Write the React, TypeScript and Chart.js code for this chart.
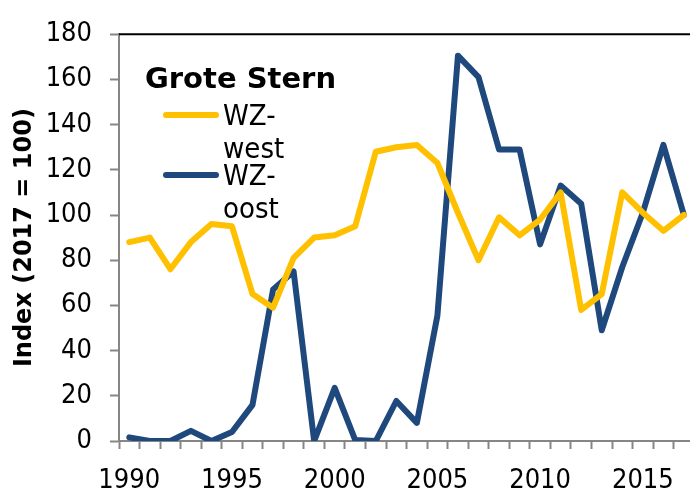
import React, { useEffect, useRef } from "react";
import { Chart, registerables } from "chart.js";

Chart.register(...registerables);

// ---- data ----
const years = [
  "1990", "1991", "1992", "1993", "1994", "1995", "1996", "1997", "1998", "1999",
  "2000", "2001", "2002", "2003", "2004", "2005", "2006", "2007", "2008", "2009",
  "2010", "2011", "2012", "2013", "2014", "2015", "2016", "2017",
];
const wzWest = [
  88, 90, 76, 88, 96, 95, 65, 59, 81, 90,
  91, 95, 128, 130, 131, 123, 101, 80, 99, 91,
  98, 110, 58, 65, 110, 101, 93, 100,
];
const wzOost = [
  1.6, 0, 0, 4.5, 0, 4, 16, 67, 75, 0,
  23.5, 0.4, 0, 17.7, 8, 55.5, 170.5, 161, 129, 129,
  87, 113, 105, 49, 77, 101, 131, 100,
];
const seriesNames = ["WZ-west", "WZ-oost"];
const seriesColors = ["#FFC000", "#1F497D"];
const legendTitle = "Grote Stern";
const yTitle = "Index (2017 = 100)";
const yMin = 0;
const yMax = 180;
const yStep = 20;
const xLabelEvery = 5;

const REG = '"DejaVu Sans Condensed", "Liberation Sans", sans-serif';
const BOLD = '"DejaVu Sans", sans-serif';

const framePlugin = {
  id: "topFrame",
  beforeDatasetsDraw(chart: any) {
    const { ctx, chartArea } = chart;
    ctx.save();
    ctx.strokeStyle = "#000";
    ctx.lineWidth = 2;
    ctx.beginPath();
    ctx.moveTo(chartArea.left, chartArea.top);
    ctx.lineTo(chartArea.right, chartArea.top);
    ctx.stroke();
    ctx.restore();
  },
};

const legendPlugin = {
  id: "insideLegend",
  afterDraw(chart: any) {
    const { ctx } = chart;
    ctx.save();
    ctx.fillStyle = "#000";
    ctx.textAlign = "left";
    ctx.textBaseline = "alphabetic";
    ctx.font = `bold 29px ${BOLD}`;
    ctx.fillText(legendTitle, 145, 88);
    chart.data.datasets.forEach((ds: any, i: number) => {
      const lineY = 115 + 60 * i;
      ctx.strokeStyle = ds.borderColor;
      ctx.lineWidth = 6;
      ctx.lineCap = "round";
      ctx.beginPath();
      ctx.moveTo(166, lineY);
      ctx.lineTo(216, lineY);
      ctx.stroke();
      ctx.font = `29px ${REG}`;
      const parts = String(ds.label).split(/(?<=-)/);
      parts.forEach((p: string, j: number) => {
        ctx.fillText(p, 223, lineY + 10 + 33 * j);
      });
    });
    ctx.restore();
  },
};

export default function App() {
  const ref = useRef<HTMLCanvasElement>(null);

  useEffect(() => {
    if (!ref.current) return;
    const chart = new Chart(ref.current, {
      type: "line",
      data: {
        labels: years,
        datasets: [wzWest, wzOost].map((d, i) => ({
          label: seriesNames[i],
          data: d,
          borderColor: seriesColors[i],
          backgroundColor: seriesColors[i],
          borderWidth: 6,
          pointRadius: 0,
          pointHoverRadius: 0,
          tension: 0,
          fill: false,
          borderJoinStyle: "round" as const,
          borderCapStyle: "round" as const,
        })),
      },
      options: {
        animation: false,
        responsive: false,
        events: [],
        layout: { padding: { left: 0, top: 24, right: 5, bottom: 0 } },
        plugins: {
          legend: { display: false },
          tooltip: { enabled: false },
        },
        scales: {
          x: {
            type: "category",
            offset: true,
            grid: {
              offset: true,
              drawOnChartArea: false,
              drawTicks: true,
              tickLength: 8,
              tickColor: "#868686",
              tickWidth: 2,
            },
            border: { color: "#868686", width: 2 },
            ticks: {
              autoSkip: false,
              maxRotation: 0,
              minRotation: 0,
              padding: 16,
              color: "#000",
              font: { family: REG, size: 27 },
              callback: (_v: any, i: number) =>
                Number(years[i]) % xLabelEvery === 0 ? years[i] : "",
            },
            afterFit: (s: any) => {
              s.height = 49;
            },
          },
          y: {
            min: yMin,
            max: yMax,
            ticks: {
              stepSize: yStep,
              padding: 18,
              color: "#000",
              font: { family: REG, size: 27 },
            },
            grid: {
              drawOnChartArea: false,
              drawTicks: true,
              tickLength: 9,
              tickColor: "#868686",
              tickWidth: 2,
            },
            border: { color: "#868686", width: 2 },
            title: {
              display: true,
              text: yTitle,
              color: "#000",
              font: { family: BOLD, weight: "bold", size: 24 },
              padding: { top: 10, bottom: 0 },
            },
            afterFit: (s: any) => {
              s.width = 119;
            },
          },
        },
      } as any,
      plugins: [framePlugin, legendPlugin],
    });
    return () => chart.destroy();
  }, []);

  return (
    <div
      style={{
        position: "fixed",
        left: 0,
        top: 0,
        width: 690,
        height: 490,
        overflow: "hidden",
        background: "#fff",
      }}
    >
      <canvas ref={ref} width={700} height={490} style={{ display: "block" }} />
    </div>
  );
}
